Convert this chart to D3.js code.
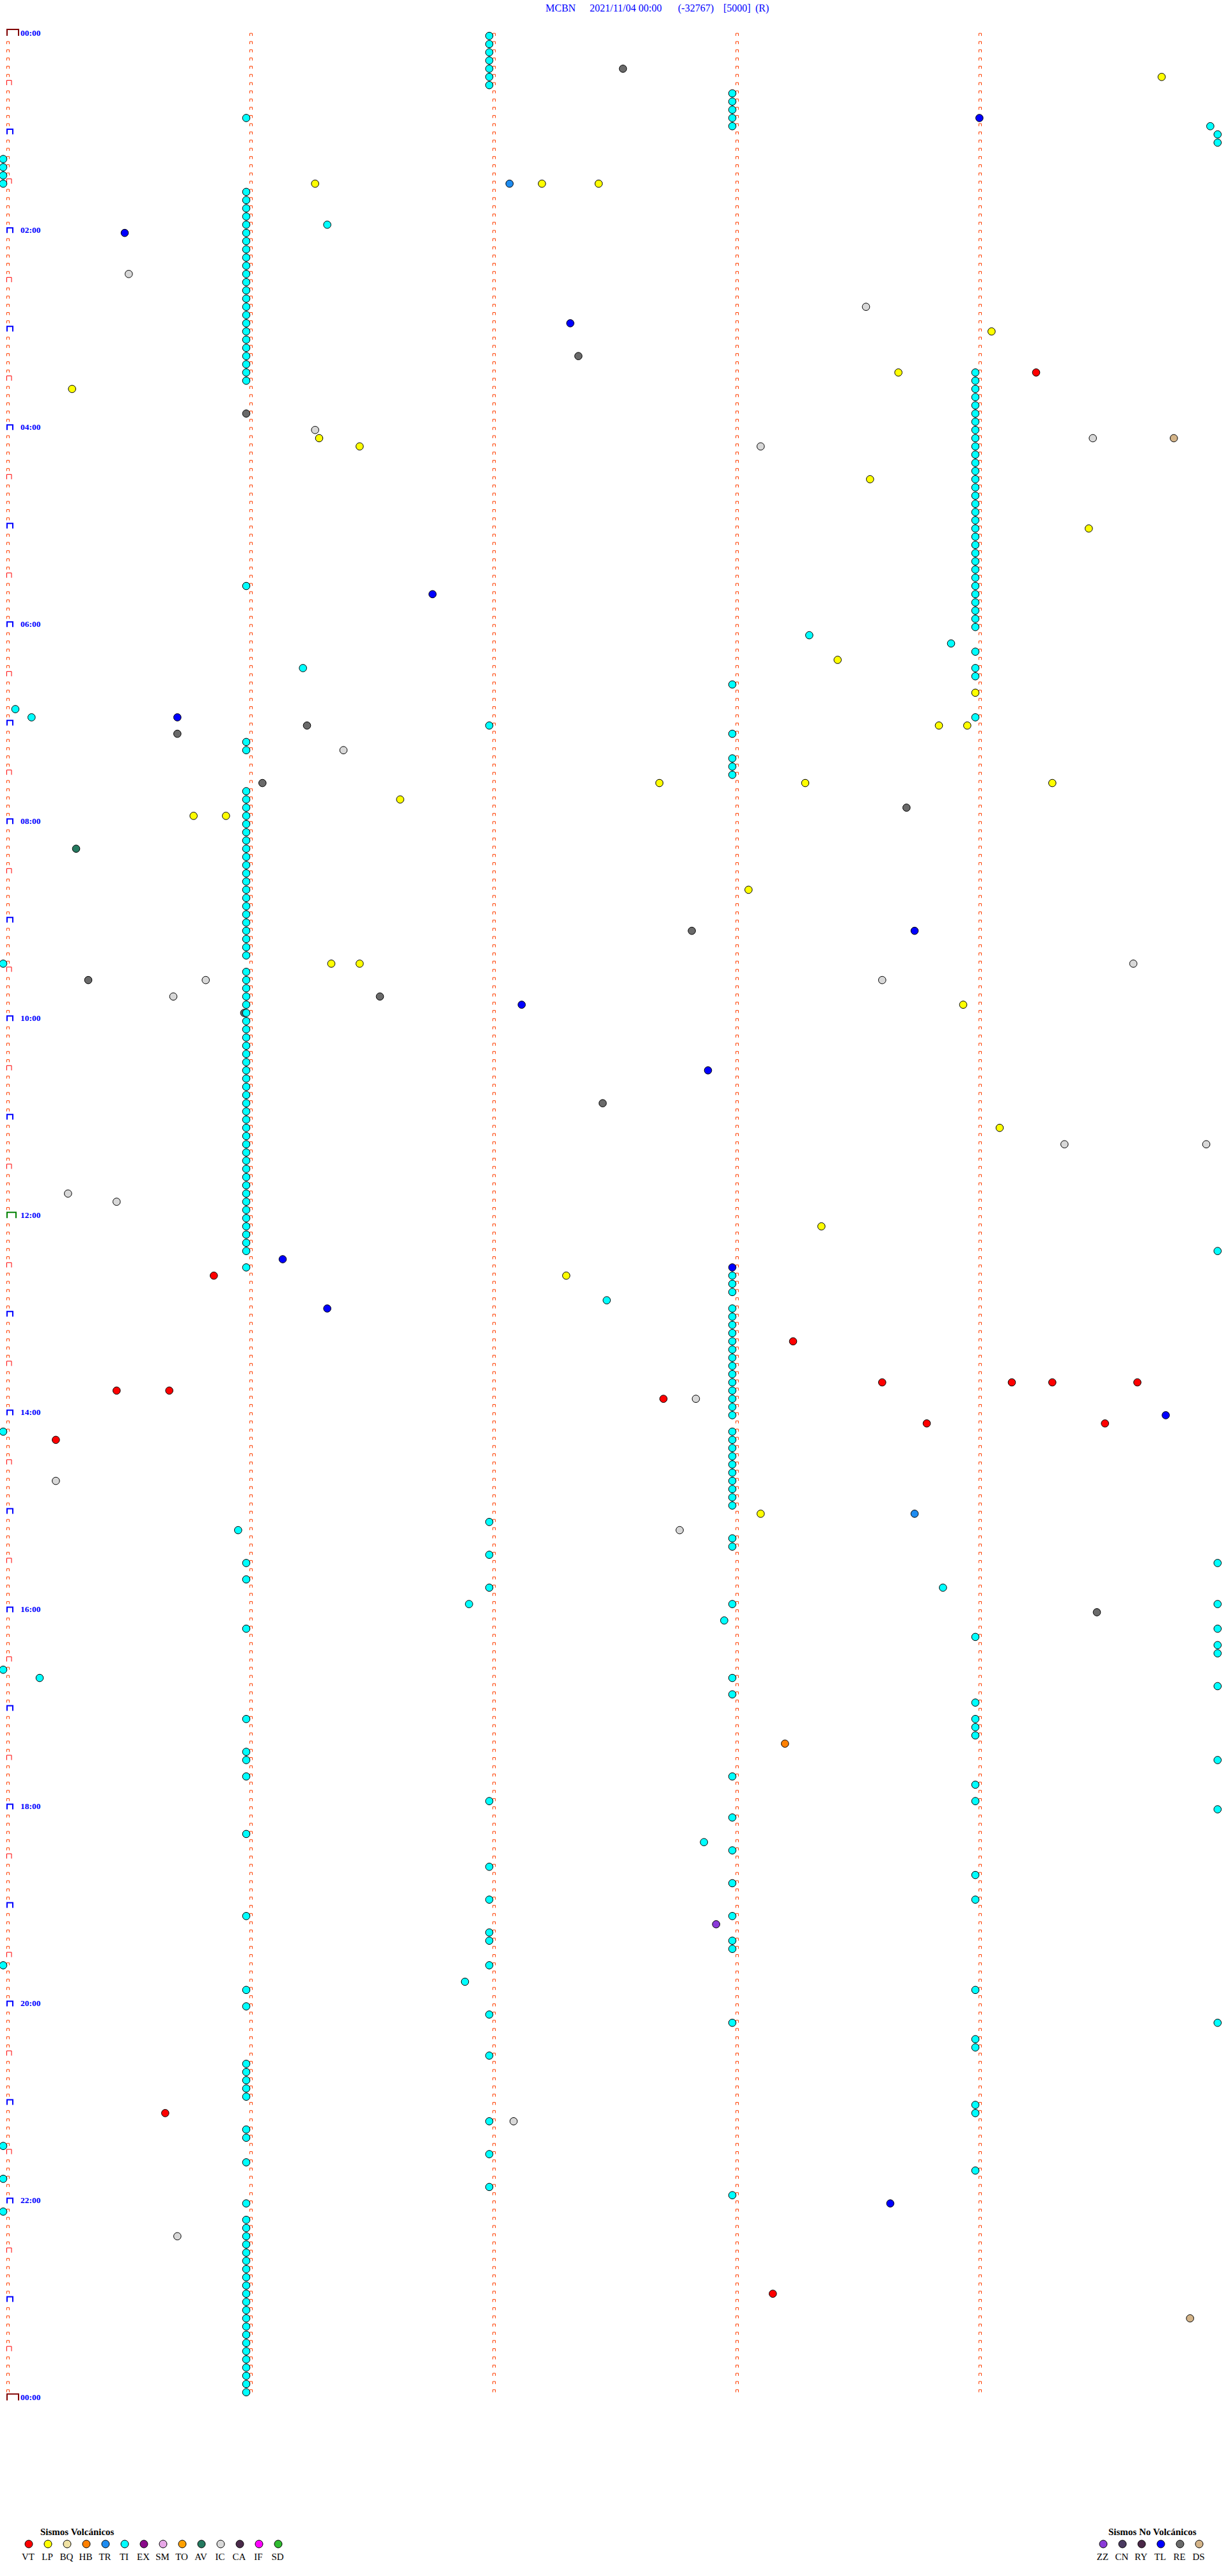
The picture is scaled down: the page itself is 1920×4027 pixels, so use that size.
<!DOCTYPE html>
<html><head><meta charset="utf-8">
<script src="https://cdn.jsdelivr.net/npm/d3@7"></script>
<style>body{margin:0;background:#fff}svg{display:block}</style>
</head><body><div id="chart"></div>
<script>
// ---------- DATA ----------
const titleParts = ["MCBN", "2021/11/04 00:00", "(-32767)", "[5000]", "(R)"];
const hourLabels = ["00:00","02:00","04:00","06:00","08:00","10:00","12:00","14:00","16:00","18:00","20:00","22:00","00:00"];
const volcanicTypes = ["VT","LP","BQ","HB","TR","TI","EX","SM","TO","AV","IC","CA","IF","SD"];
const nonVolcanicTypes = ["ZZ","CN","RY","TL","RE","DS"];

// event times (HH:MM:SS) per type
const tiTimes = [
 "00:02:00","00:07:00","00:12:00","00:17:00","00:22:00","00:27:00","00:32:00",
 "00:38:00","00:43:00","00:48:00","00:53:00","00:58:00","00:51:00",
 "00:59:58","01:04:59.8","01:09:59.8",
 "01:15:00","01:20:00","01:25:00","01:30:00","01:56:20",
 "01:36:00","01:41:00","01:46:00","01:51:00","01:56:00","02:01:00","02:06:00","02:11:00","02:16:00","02:21:00","02:26:00","02:31:00",
 "02:36:00","02:41:00","02:46:00","02:51:00","02:56:00","03:01:00","03:06:00","03:11:00","03:16:00","03:21:00","03:26:00","03:31:00",
 "03:29:00","03:34:00","03:39:00","03:44:00","03:49:00","03:54:00","03:59:00","04:04:00","04:09:00","04:14:00","04:19:00","04:24:00",
 "04:29:00","04:34:00","04:39:00","04:44:00","04:49:00","04:54:00","04:59:00","05:04:00","05:09:00","05:14:00","05:19:00","05:24:00",
 "05:29:00","05:34:00","05:39:00","05:44:00","05:49:00","05:54:00","05:59:00","06:04:00",
 "05:36:00","06:08:19","06:13:54","06:19:00","06:26:14","06:29:00","06:34:00","06:38:00","06:50:03","06:55:07","06:59:00",
 "07:02:00","07:08:00","07:11:00","07:16:00","07:23:00","07:28:00","07:33:00",
 "07:41:00","07:46:00","07:51:00","07:56:00","08:01:00","08:06:00","08:11:00","08:16:00","08:21:00","08:26:00","08:31:00",
 "08:36:00","08:41:00","08:46:00","08:51:00","08:56:00","09:01:00","09:06:00","09:11:00","09:16:00","09:21:00",
 "09:25:00",
 "09:31:00","09:36:00","09:41:00","09:46:00","09:51:00","09:56:00","10:01:00","10:06:00","10:11:00","10:16:00","10:21:00","10:26:00",
 "10:31:00","10:36:00","10:41:00","10:46:00","10:51:00","10:56:00","11:01:00","11:06:00","11:11:00","11:16:00","11:21:00","11:26:00",
 "11:31:00","11:36:00","11:41:00","11:46:00","11:51:00","11:56:00","12:01:00","12:06:00","12:11:00","12:16:00","12:21:00",
 "12:24:59.8","12:31:00","12:52:29",
 "12:38:00","12:43:00","12:48:00",
 "12:58:00","13:03:00","13:08:00","13:13:00","13:18:00","13:23:00","13:28:00","13:33:00","13:38:00","13:43:00","13:48:00","13:53:00","13:58:00","14:03:00",
 "14:10:00",
 "14:13:00","14:18:00","14:23:00","14:28:00","14:33:00","14:38:00","14:43:00","14:48:00","14:53:00","14:58:00",
 "15:07:00","15:10:58","15:18:00","15:23:00","15:27:00","15:31:00","15:34:59.8","15:41:00","15:47:00","15:48:52","15:56:55","15:58:00","15:59:59.8",
 "16:11:00","16:07:58","16:14:59.8","16:19:00","16:24:59.8","16:29:59.8","16:35:00","16:40:09","16:43:00","16:49:59.8","16:53:00","16:59:00",
 "17:06:00","17:09:00","17:14:00","17:19:00","17:26:00","17:31:00","17:34:59.8","17:41:00","17:43:00","17:49:00","17:57:00","17:59:00",
 "18:04:59.8","18:08:00","18:16:00","18:22:53","18:28:00","18:37:00","18:44:00","18:48:00","18:57:00","18:59:00",
 "19:06:00","19:08:00","19:17:00","19:22:00","19:23:00","19:28:00","19:35:00","19:37:00","19:46:54","19:51:00","19:54:00",
 "20:01:00","20:07:00","20:13:00","20:14:59.8","20:24:00","20:29:00","20:32:00","20:36:00","20:41:00","20:46:00","20:51:00","20:56:00",
 "21:04:00","21:09:00","21:12:00","21:16:00","21:21:00","21:25:00","21:32:00","21:36:00","21:44:00","21:45:00","21:52:00","21:58:00",
 "22:01:00","22:05:00",
 "22:11:00","22:16:00","22:21:00","22:26:00","22:31:00","22:36:00","22:41:00","22:46:00","22:51:00","22:56:00","23:01:00",
 "23:06:00","23:11:00","23:16:00","23:21:00","23:26:00","23:31:00","23:36:00","23:41:00","23:46:00","23:51:00","23:56:00"
];
const lpTimes = ["00:29:46","01:31:17","01:32:13","01:32:27","03:04:04","03:28:41","03:35:17","04:06:18","04:11:28","04:33:34",
 "05:04:28","06:23:26","06:44:00","07:03:51","07:03:58","07:37:42","07:38:18","07:39:19","07:46:38","07:55:47","07:55:55",
 "08:43:04","09:26:21","09:26:28","09:53:57","11:09:06","12:08:22","12:37:19","15:03:07"];
const vtTimes = ["03:29:15","12:35:52","13:18:15","13:43:37","13:44:09","13:44:19","13:44:40","13:45:28","13:45:41",
 "13:52:43","14:08:48","14:09:32","14:15:13","21:05:40","22:58:10"];
const tlTimes = ["00:54:01","02:00:30","02:57:20","05:41:46","06:55:43","09:08:45","09:52:08","10:32:54","12:26:09",
 "12:33:00","12:56:20","14:04:47","22:03:39"];
const icTimes = ["02:25:31","02:48:33","04:01:17","04:09:29","04:13:07","07:16:24","09:29:39","09:35:50","09:38:37",
 "09:45:42","11:19:22","11:19:57","11:45:16","11:50:28","13:52:51","14:40:13","15:12:47","21:12:06","22:20:43"];
const reTimes = ["00:22:33","03:17:22","03:51:00","07:01:15","07:05:43","07:36:04","07:53:43","09:07:50","09:35:21",
 "09:46:33","09:55:59.5","10:52:28","16:04:30"];
const trTimes = ["01:32:05","15:03:45"];
const avTimes = ["08:15:18"];
const hbTimes = ["17:23:13"];
const zzTimes = ["19:12:56"];
const dsTimes = ["04:09:49","23:14:53"];

// ---------- STYLE ----------
const typeColor = {
  VT:"#ff0000", LP:"#ffff00", BQ:"#f0e2a4", HB:"#ff8000", TR:"#1e8cf0", TI:"#00ffff", EX:"#8a0a8a",
  SM:"#e8a8e8", TO:"#ffa000", AV:"#257a60", IC:"#d8d8d8", CA:"#4a2a4a", IF:"#ff00ff", SD:"#30bb30",
  ZZ:"#8a3ad8", CN:"#4a3a60", RY:"#4a2848", TL:"#0000ff", RE:"#6a6a6a", DS:"#d4b488"
};

const W = 1920, H = 4027;
const svg = d3.select("#chart").append("svg").attr("width", W).attr("height", H)
  .style("font-family", "'Liberation Serif','Times New Roman',serif");

const NROWS = 288, ROW_SEC = 300;
const x = d3.scaleLinear().domain([0, ROW_SEC]).range([5, 1905]);
const y = d3.scaleLinear().domain([0, NROWS]).range([56.1, 56.1 + NROWS * 12.835]);

function toSec(t) { const p = t.split(":").map(Number); return p[0]*3600 + p[1]*60 + (p[2]||0); }

// ---------- TITLE ----------
const titleX = [853, 922, 1060, 1131, 1181];
svg.append("g").selectAll("text").data(titleParts).join("text")
  .attr("x", (d,i) => titleX[i]).attr("y", 18)
  .attr("fill", "#0000ff").attr("font-size", 16).text(d => d);

// ---------- ROW MARKERS ----------
function markerStyle(k) {
  if (k % 288 === 0) return {c:"#800000", w:20, h:11, sw:2};
  if (k === 144) return {c:"#008000", w:16, h:10, sw:2};
  if (k % 12 === 0) return {c:"#0000ff", w:11, h:9, sw:2};
  if (k % 6 === 0) return {c:"#ff0000", w:8.5, h:8, sw:1};
  return {c:"#ff4000", w:5, h:4.5, sw:1};
}
function bracket(x0, yb, w, h, sw) {
  const o = sw/2;
  return `M${x0+o},${yb} L${x0+o},${yb-h+o} L${x0+w-o},${yb-h+o} L${x0+w-o},${yb}`;
}
const mk = svg.append("g").attr("fill", "none");
d3.range(0, NROWS + 1).forEach(k => {
  const s = markerStyle(k);
  mk.append("path").attr("d", bracket(x(0) + 5, y(k), s.w, s.h, s.sw))
    .attr("stroke", s.c).attr("stroke-width", s.sw);
});
[1,2,3,4].forEach(c => {
  d3.range(0, NROWS).forEach(k => {
    mk.append("path").attr("d", bracket(x(c*60) + 5, y(k), 5, 4.5, 1))
      .attr("stroke", "#ff4000").attr("stroke-width", 1);
  });
});

// hour labels
svg.append("g").selectAll("text").data(hourLabels).join("text")
  .attr("x", 32).attr("y", (d,i) => y(i*24) - 0.5)
  .attr("fill", "#0000ff").attr("font-weight", "bold").attr("font-size", 13.5)
  .text(d => d);

// ---------- EVENTS ----------
const byType = {TI:tiTimes, LP:lpTimes, VT:vtTimes, TL:tlTimes, IC:icTimes, RE:reTimes, TR:trTimes,
                AV:avTimes, HB:hbTimes, ZZ:zzTimes, DS:dsTimes};
let events = [];
Object.entries(byType).forEach(([type, arr]) => arr.forEach(t => events.push({type, sec: toSec(t)})));
events.sort((a,b) => a.sec - b.sec);

svg.append("g").selectAll("circle").data(events).join("circle")
  .attr("cx", d => x(d.sec % ROW_SEC))
  .attr("cy", d => y(Math.floor(d.sec / ROW_SEC)))
  .attr("r", 5.8)
  .attr("fill", d => typeColor[d.type])
  .attr("stroke", "#000").attr("stroke-width", 1);

// ---------- LEGENDS ----------
function legend(types, title, x0, titleX) {
  const g = svg.append("g");
  g.append("text").attr("x", titleX).attr("y", 3963).attr("font-weight", "bold")
    .attr("font-size", 15).attr("fill", "#000").text(title);
  const lx = d3.scalePoint().domain(types).range([x0, x0 + 30*(types.length-1)]);
  g.selectAll("circle").data(types).join("circle")
    .attr("cx", d => lx(d)).attr("cy", 3977).attr("r", 6)
    .attr("fill", d => typeColor[d]).attr("stroke", "#000").attr("stroke-width", 1);
  g.selectAll("text.lab").data(types).join("text").attr("class", "lab")
    .attr("x", d => lx(d) - 1).attr("y", 4002).attr("text-anchor", "middle")
    .attr("font-size", 15).attr("fill", "#000").text(d => d);
}
legend(volcanicTypes, "Sismos Volcánicos", 45, 63);
legend(nonVolcanicTypes, "Sismos No Volcánicos", 1725, 1733);
</script>
</body></html>
